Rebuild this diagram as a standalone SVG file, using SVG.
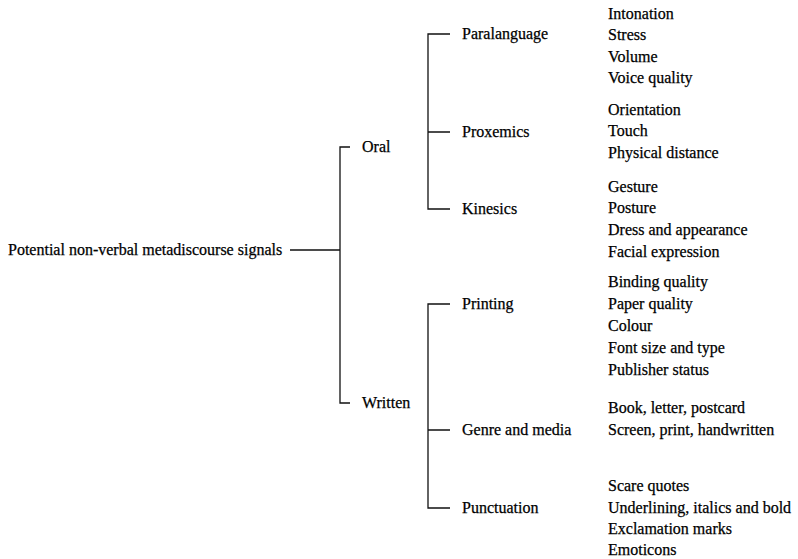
<svg xmlns="http://www.w3.org/2000/svg" width="798" height="559" viewBox="0 0 798 559">
<style>
text{font-family:"Liberation Serif","Times New Roman",serif;font-size:16px;fill:#000;stroke:#000;stroke-width:0.25}
.c{fill:none;stroke:#111;stroke-width:1.3}
</style>
<rect width="798" height="559" fill="#fff"/>
<g id="connectors">
<path class="c" d="M290 250H340M350 147H340V403H350"/>
<path class="c" d="M450 34H428V209H450M428 132H450"/>
<path class="c" d="M450 304H428V508H450M428 430H450"/>
</g>
<g id="root"><text x="8" y="255">Potential non-verbal metadiscourse signals</text></g>
<g id="oral"><text x="362" y="152">Oral</text></g>
<g id="written"><text x="362" y="408">Written</text></g>
<g id="paralanguage"><text x="462" y="39">Paralanguage</text></g>
<g id="proxemics"><text x="462" y="137">Proxemics</text></g>
<g id="kinesics"><text x="462" y="214">Kinesics</text></g>
<g id="printing"><text x="462" y="309">Printing</text></g>
<g id="genre"><text x="462" y="435">Genre and media</text></g>
<g id="punctuation"><text x="462" y="513">Punctuation</text></g>
<g id="paralanguage-items"><text x="608" y="19">Intonation</text><text x="608" y="40">Stress</text><text x="608" y="62">Volume</text><text x="608" y="83">Voice quality</text></g>
<g id="proxemics-items"><text x="608" y="115">Orientation</text><text x="608" y="136">Touch</text><text x="608" y="158">Physical distance</text></g>
<g id="kinesics-items"><text x="608" y="192">Gesture</text><text x="608" y="213">Posture</text><text x="608" y="235">Dress and appearance</text><text x="608" y="257">Facial expression</text></g>
<g id="printing-items"><text x="608" y="287">Binding quality</text><text x="608" y="309">Paper quality</text><text x="608" y="331">Colour</text><text x="608" y="353">Font size and type</text><text x="608" y="375">Publisher status</text></g>
<g id="genre-items"><text x="608" y="413">Book, letter, postcard</text><text x="608" y="435">Screen, print, handwritten</text></g>
<g id="punctuation-items"><text x="608" y="491">Scare quotes</text><text x="608" y="513">Underlining, italics and bold</text><text x="608" y="534">Exclamation marks</text><text x="608" y="555">Emoticons</text></g>
</svg>
